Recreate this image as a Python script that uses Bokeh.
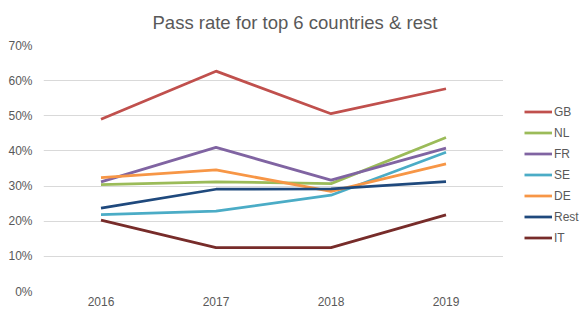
from bokeh.plotting import figure
from bokeh.layouts import row
from bokeh.models import (FactorRange, Range1d, NumeralTickFormatter, FixedTicker,
                          Legend, LegendItem, ColumnDataSource)
from bokeh.embed import file_html
from bokeh.resources import INLINE

years = ["2016", "2017", "2018", "2019"]
series_names = ["GB", "NL", "FR", "SE", "DE", "Rest", "IT"]
gb = [0.490, 0.627, 0.506, 0.577]
nl = [0.304, 0.312, 0.307, 0.438]
fr = [0.312, 0.410, 0.317, 0.408]
se = [0.219, 0.229, 0.274, 0.396]
de = [0.324, 0.346, 0.285, 0.363]
rest = [0.237, 0.291, 0.292, 0.313]
it = [0.203, 0.125, 0.125, 0.218]
y_ticks = [0.0, 0.1, 0.2, 0.3, 0.4, 0.5, 0.6, 0.7]
colors = ["#C0504D", "#9BBB59", "#8064A2", "#4BACC6", "#F79646", "#1F497D", "#772C2A"]
values = [gb, nl, fr, se, de, rest, it]

FONT = "Liberation Sans"
TXT = "#595959"
LW = 2.75

p = figure(width=503, height=310, x_range=FactorRange(*years, range_padding=0),
           y_range=Range1d(0, 0.7), output_backend="svg", toolbar_location=None,
           min_border_left=43, min_border_right=0, min_border_top=45, min_border_bottom=19)
p.outline_line_color = None
p.background_fill_color = "white"
p.border_fill_color = "white"

p.title.text = "Pass rate for top 6 countries & rest"
p.title.text_font = FONT
p.title.text_font_size = "18.5px"
p.title.text_font_style = "normal"
p.title.text_color = TXT
p.title.align = "left"
p.title.offset = 109
p.title.standoff = 22
p.title.vertical_align = "top"

p.xgrid.grid_line_color = None
p.ygrid.grid_line_color = "#D9D9D9"
p.ygrid.grid_line_width = 1

p.yaxis.ticker = FixedTicker(ticks=y_ticks)
p.yaxis.formatter = NumeralTickFormatter(format="0%")
for ax in (p.xaxis[0], p.yaxis[0]):
    ax.axis_line_color = None
    ax.major_tick_line_color = None
    ax.minor_tick_line_color = None
    ax.major_tick_out = 0
    ax.major_tick_in = 0
    ax.major_label_text_font = FONT
    ax.major_label_text_font_size = "12px"
    ax.major_label_text_color = TXT
p.yaxis.major_label_standoff = 11
p.xaxis.major_label_standoff = 5

for vals, col in zip(values, colors):
    src = ColumnDataSource(dict(x=years, y=vals))
    p.line("x", "y", source=src, line_color=col, line_width=LW)

# legend panel to the right of the plot area
lf = figure(width=77, height=310, x_range=Range1d(0, 1), y_range=Range1d(0, 1),
            x_axis_type=None, y_axis_type=None, output_backend="svg", toolbar_location=None,
            min_border=0)
lf.outline_line_color = None
lf.xgrid.grid_line_color = None
lf.ygrid.grid_line_color = None
nan = float("nan")
items = []
for name, col in zip(series_names, colors):
    r = lf.line(x=[nan], y=[nan], line_color=col, line_width=LW)
    items.append(LegendItem(label=name, renderers=[r]))
legend = Legend(items=items, location=(21, 43), padding=0, margin=0, spacing=0,
                glyph_width=28, glyph_height=21, label_standoff=2,
                label_text_font=FONT, label_text_font_size="12px", label_text_color=TXT,
                border_line_color=None, background_fill_alpha=0)
lf.add_layout(legend)

layout = row(p, lf, spacing=0)
open("out.html", "w").write(file_html(layout, INLINE))
